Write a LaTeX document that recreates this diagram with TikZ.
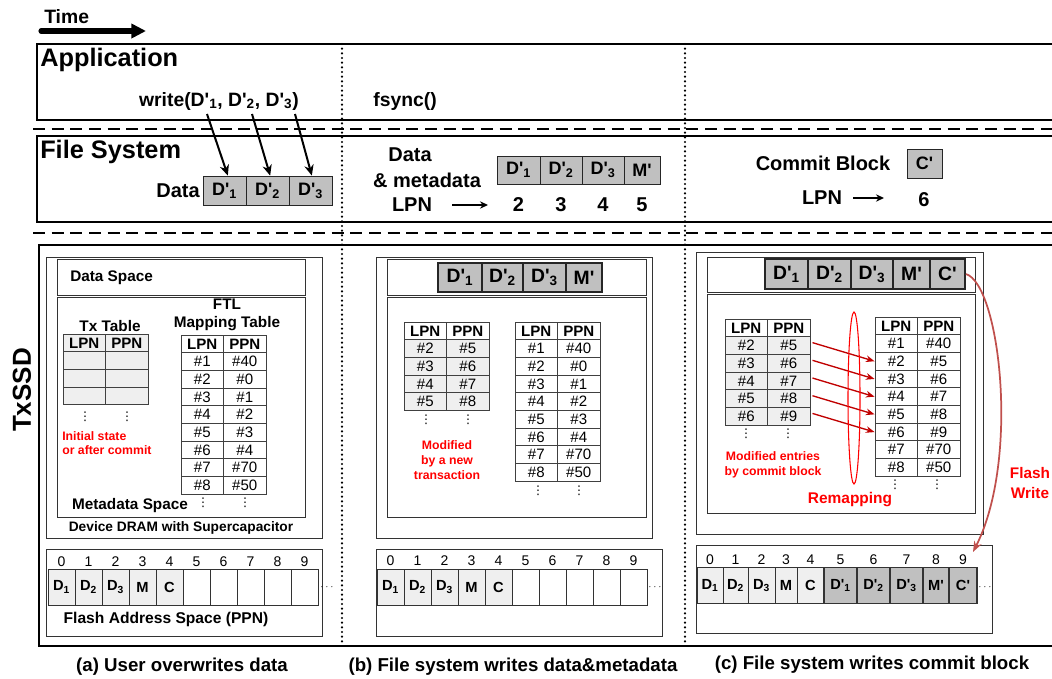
\documentclass[tikz,border=0pt]{standalone}
\usepackage{fontspec}
\setmainfont{Liberation Sans}[Ligatures=TeXOff]
\newfontfamily\djv{DejaVu Sans}
\usetikzlibrary{arrows.meta,calc}
\newcommand{\fs}[1]{\fontsize{#1}{#1}\selectfont}
\newcommand{\mydots}{{\djv ⋮}}
\definecolor{boxgray}{HTML}{C0C0C0}
\definecolor{lightc}{HTML}{EFEFEF}
\definecolor{redtxt}{HTML}{FF0000}
\definecolor{remapred}{HTML}{C00000}
\definecolor{fwred}{HTML}{C0504D}
\tikzset{
  lbl/.style={inner sep=0pt, font=\bfseries\fs{#1}},
  panel/.style={draw=black!80, line width=0.75pt},
  fsb/.style={draw=black!85, fill=boxgray, line width=0.6pt, inner sep=0pt, font=\bfseries\fs{13.5}},
  drb/.style={draw=black!85, fill=boxgray, line width=1.5pt, inner sep=0pt, font=\bfseries\fs{14.5}},
  tcell/.style={draw=black!75, line width=0.7pt, minimum width=42.5*0.75pt, minimum height=17.7*0.75pt, inner sep=0pt, font=\fs{11.3}},
  hdrf/.style={font=\bfseries\fs{11.3}},
  fcell/.style={draw=black!80, fill=lightc, line width=0.6pt, minimum width=27*0.75pt, minimum height=36*0.75pt, inner sep=0pt, font=\bfseries\fs{11}},
  fdark/.style={fcell, fill=boxgray, line width=1.4pt},
  fnum/.style={inner sep=0pt, font=\fs{10.5}},
  vd/.style={inner sep=0pt, font=\fs{9}},
  hd/.style={inner sep=0pt, font=\fs{7}},
  redt/.style={inner sep=0pt, text=redtxt, font=\bfseries\fontsize{9.2}{11}\selectfont, align=center},
  warrow/.style={line width=1.5pt, -{Stealth[length=8pt,width=7pt]}},
  larrow/.style={line width=1.3pt, -{Stealth[length=6pt,width=5.5pt]}},
  remap/.style={draw=remapred, line width=1pt, -{Stealth[length=6.5pt,width=5pt]}},
  fw/.style={draw=fwred, line width=1.3pt, -{Stealth[length=8pt,width=6pt]}},
  sep/.style={line width=1.2pt, dash pattern=on 9pt off 5pt},
  vsep/.style={line width=1.8pt, dash pattern=on 0pt off 3.5pt, line cap=round},
}
\newcommand{\boxrow}[5]{%
  \foreach \a/\b/\lab [count=\i] in {#5} {
    \node[#1, minimum width={(\b-\a)*0.75pt}, minimum height=#4*0.75pt] (#2\i) at ({(\a+\b)/2},{#3+#4/2}) {\lab};
  }%
}
\newcommand{\mktable}[6]{%
  \node[tcell, hdrf, fill=#4] (#1-0-1) at (#2+21.25,#3+8.85) {LPN};
  \node[tcell, hdrf, fill=#4] (#1-0-2) at (#2+63.75,#3+8.85) {PPN};
  \foreach \l/\p [count=\i] in {#6} {
    \node[tcell, fill=#5] (#1-\i-1) at (#2+21.25,#3+8.85+17.7*\i) {\l};
    \node[tcell, fill=#5] (#1-\i-2) at (#2+63.75,#3+8.85+17.7*\i) {\p};
  }%
}
\begin{document}
\begin{tikzpicture}[x=0.75pt,y=-0.75pt]
\useasboundingbox (0,0) rectangle (1052,678);
\clip (0,0) rectangle (1052,678);

% ---- time arrow
\node[lbl=14.5, anchor=west] (time) at (44,17) {Time};
\coordinate (t0) at (41,31);
\coordinate (t1) at (146,31);
\draw[line width=3.8pt, line cap=round, -{Triangle[length=11pt,width=10.5pt]}] (t0) -- (t1);

% ---- layers
\draw[line width=1.5pt] (37,44) rectangle (1070,120);
\draw[line width=1.5pt] (37,136) rectangle (1070,222);
\draw[line width=2pt] (39,245) rectangle (1070,646);
\draw[sep] (33,129) -- (1052,129);
\draw[sep] (33,233) -- (1052,233);
\draw[vsep] (342,44) -- (342,646);
\draw[vsep] (685,44) -- (685,646);

\node[lbl=19, anchor=west] (app) at (40,60) {Application};
\node[lbl=19, anchor=west] (fsys) at (40,152) {File System};
\node[rotate=90, lbl=19.5] (txssd) at (22,390) {TxSSD};

% ---- application
\node[lbl=14.5] (wr) at (219,101) {write(D'\textsubscript{1}, D'\textsubscript{2}, D'\textsubscript{3})};
\node[lbl=14.5] (fsync) at (405,101) {fsync()};

% ---- file system (a)
\boxrow{fsb}{fa}{176}{29}{203/246/D'\textsubscript{1},246/289/D'\textsubscript{2},289/332/D'\textsubscript{3}}
\node[lbl=15, anchor=east] (fsdata) at (200,191) {Data};
\coordinate (w1) at (207,114);
\coordinate (w2) at (252,114);
\coordinate (w3) at (295,114);
\draw[warrow] (w1) -- ([xshift=2.5pt]fa1.north);
\draw[warrow] (w2) -- ([xshift=2pt]fa2.north);
\draw[warrow] (w3) -- ([xshift=1pt]fa3.north);

% ---- file system (b)
\node[lbl=15] (fsb1) at (410,155) {Data};
\node[lbl=15] (fsb2) at (427,180) {\& metadata};
\node[lbl=15] (fsb3) at (412,205) {LPN};
\coordinate (la0) at (452,205);
\coordinate (la1) at (488,205);
\draw[larrow] (la0) -- (la1);
\boxrow{fsb}{fb}{156}{28}{497/540/D'\textsubscript{1},540/582/D'\textsubscript{2},582/624/D'\textsubscript{3},624/660/M'}
\foreach \n [count=\i] in {2,3,4,5} \node[lbl=15] (fbn\i) at ($(fb\i.center)+(0,35)$) {\n};

% ---- file system (c)
\node[lbl=15] (cb) at (823,163) {Commit Block};
\node[fsb, minimum width=35*0.75pt, minimum height=29*0.75pt] (fcc) at (924.5,163.5) {C'};
\node[lbl=15] (lpnc) at (822,198) {LPN};
\coordinate (lc0) at (853,198);
\coordinate (lc1) at (884,198);
\draw[larrow] (lc0) -- (lc1);
\node[lbl=15] (six) at (924,200) {6};

% ================= panel (a)
\draw[panel] (46,257) rectangle (322,538);
\draw[panel] (57,259) rectangle (305,295);
\draw[panel] (57,297) rectangle (305,517);
\node[lbl=11.5, anchor=west] (dsa) at (70,278) {Data Space};
\node[lbl=11.5] (msa) at (130,506) {Metadata Space};
\node[lbl=10.3] (dram) at (181,528) {Device DRAM with Supercapacitor};
\node[lbl=11.5] (txt) at (110,326) {Tx Table};
\node[lbl=11.5, align=center, font=\bfseries\fontsize{11.5}{13.5}\selectfont] (ftlt) at (227,315) {FTL\\Mapping Table};
\mktable{ltx}{63}{334}{lightc}{lightc}{\relax/\relax,\relax/\relax,\relax/\relax}
\mktable{lftl}{181}{335}{white}{white}{\#1/\#40,\#2/\#0,\#3/\#1,\#4/\#2,\#5/\#3,\#6/\#4,\#7/\#70,\#8/\#50}
\node[vd] (ld1) at (85,417) {\mydots};
\node[vd] (ld2) at (127,417) {\mydots};
\node[vd] (ld3) at (203,503) {\mydots};
\node[vd] (ld4) at (245,503) {\mydots};
\node[redt, anchor=west, align=left] (init) at (62,443) {Initial state\\or after commit};

% flash (a)
\draw[panel] (46,549) rectangle (322,636);
\foreach \lab [count=\i from 0] in {D\textsubscript{1},D\textsubscript{2},D\textsubscript{3},M,C}
  \node[fcell] (lf\i) at (61.5+27*\i,587) {\lab};
\foreach \i in {5,...,9} \node[fcell, fill=white] (lf\i) at (61.5+27*\i,587) {};
\foreach \i in {0,...,9} \node[fnum] (lfn\i) at (61.5+27*\i,562) {\i};
\node[hd] (ldots) at (327,587) {$\cdots$};
\node[lbl=11.7] (fas) at (166,619) {Flash Address Space (PPN)};
\node[lbl=14] (capa) at (182,667) {(a) User overwrites data};

% ================= panel (b)
\draw[panel] (376,257) rectangle (652,538);
\draw[panel] (387,259) rectangle (646,295);
\draw[panel] (387,297) rectangle (646,517);
\boxrow{drb}{mb}{263}{29}{438/482/D'\textsubscript{1},482/523/D'\textsubscript{2},523/566/D'\textsubscript{3},566/602/M'}
\mktable{mtx}{404}{322}{white}{lightc}{\#2/\#5,\#3/\#6,\#4/\#7,\#5/\#8}
\mktable{mftl}{515}{322}{white}{white}{\#1/\#40,\#2/\#0,\#3/\#1,\#4/\#2,\#5/\#3,\#6/\#4,\#7/\#70,\#8/\#50}
\node[vd] (md1) at (426,420) {\mydots};
\node[vd] (md2) at (468,420) {\mydots};
\node[vd] (md3) at (538,491) {\mydots};
\node[vd] (md4) at (579,491) {\mydots};
\node[redt] (modb) at (447,460) {Modified\\by a new\\transaction};

% flash (b)
\draw[panel] (376,549) rectangle (662,636);
\foreach \lab [count=\i from 0] in {D\textsubscript{1},D\textsubscript{2},D\textsubscript{3},M,C}
  \node[fcell] (mf\i) at (390.5+27*\i,587) {\lab};
\foreach \i in {5,...,9} \node[fcell, fill=white] (mf\i) at (390.5+27*\i,587) {};
\foreach \i in {0,...,9} \node[fnum] (mfn\i) at (390.5+27*\i,561) {\i};
\node[hd] (mdots) at (655,587) {$\cdots$};
\node[lbl=14] (capb) at (513,667) {(b) File system writes data\&metadata};

% ================= panel (c)
\draw[panel] (696,252) rectangle (983,534);
\draw[panel] (707,257) rectangle (975,292);
\draw[panel] (707,294) rectangle (975,513);
\boxrow{drb}{rb}{259}{30}{765/808/D'\textsubscript{1},808/851/D'\textsubscript{2},851/893/D'\textsubscript{3},893/930/M',930/965/C'}
\mktable{rtx}{725}{319}{white}{lightc}{\#2/\#5,\#3/\#6,\#4/\#7,\#5/\#8,\#6/\#9}
\mktable{rftl}{875}{317}{white}{white}{\#1/\#40,\#2/\#5,\#3/\#6,\#4/\#7,\#5/\#8,\#6/\#9,\#7/\#70,\#8/\#50}
\node[vd] (rd1) at (746,434) {\mydots};
\node[vd] (rd2) at (788,434) {\mydots};
\node[vd] (rd3) at (895,485) {\mydots};
\node[vd] (rd4) at (937,485) {\mydots};
\node[redt] (modc) at (773,465) {Modified entries\\by commit block};
\foreach \i [evaluate=\i as \j using int(\i+1)] in {1,...,5}
  \draw[remap] ([xshift=1.5pt,yshift=2.2pt]rtx-\i-2.east) -- (rftl-\j-1.west);
\draw[draw=redtxt, line width=0.8pt] (854,398) ellipse [x radius=6, y radius=86];
\node[lbl=11.6, text=redtxt] (remapt) at (850,500) {Remapping};
\node[lbl=11.5, text=redtxt, align=center, font=\bfseries\fontsize{11.5}{15}\selectfont] (fwt) at (1030,483) {Flash\\Write};

% flash (c)
\draw[panel] (696,545) rectangle (992,633);
\foreach \a/\b/\lab [count=\i from 0] in {697/723/D\textsubscript{1},723/748/D\textsubscript{2},748/775/D\textsubscript{3},775/797/M,797/824/C}
  \node[fcell, minimum width={(\b-\a)*0.75pt}] (rf\i) at ({(\a+\b)/2},585.5) {\lab};
\foreach \a/\b/\lab [count=\i from 5] in {824/857/D'\textsubscript{1},857/890/D'\textsubscript{2},890/923/D'\textsubscript{3},923/949/M',949/977/C'}
  \node[fdark, minimum width={(\b-\a)*0.75pt}] (rf\i) at ({(\a+\b)/2},585.5) {\lab};
\foreach \i in {0,...,9} \node[fnum] (rfn\i) at ($(rf\i.center)+(0,-25.5)$) {\i};
\node[hd] (rdots) at (985,587) {$\cdots$};
\coordinate (fwend) at (973,552);
\draw[fw] (rb5.east) .. controls (1000,285) and (1020,460) .. (fwend);
\node[lbl=14] (capc) at (872,665) {(c) File system writes commit block};
\end{tikzpicture}
\end{document}
